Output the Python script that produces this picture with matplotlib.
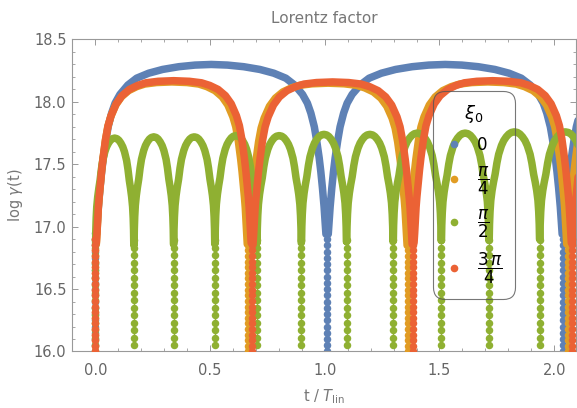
import numpy as np
import matplotlib
matplotlib.use("Agg")
import matplotlib.pyplot as plt
from matplotlib.lines import Line2D
from matplotlib.ticker import MultipleLocator, FormatStrFormatter

# ---- data -----------------------------------------------------------------
# each series: times of the dips (t / T_lin), log(gamma) at each arch top,
# and the arch shape (depth below the top vs. fraction of the arch)
blue_dips = [0.0, 1.01, 2.04, 3.07]
blue_peaks = [18.30, 18.30, 18.30]
blue_frac = [0.005, 0.009, 0.013, 0.02, 0.027, 0.034, 0.045, 0.055, 0.07,
             0.085, 0.106, 0.14, 0.178, 0.23, 0.29, 0.36, 0.43, 0.5]
blue_depth = [1.36, 1.25, 1.14, 0.99, 0.86, 0.75, 0.61, 0.50, 0.39,
              0.31, 0.24, 0.165, 0.11, 0.07, 0.04, 0.018, 0.005, 0.0]
blue_dots = [16.0, 16.05, 16.1, 16.15, 16.2, 16.25, 16.3, 16.35, 16.4, 16.45,
             16.5, 16.55, 16.6, 16.65, 16.7, 16.75, 16.8, 16.85, 16.9, 16.95]

orange_dips = [0.0, 0.666, 1.363, 2.059, 2.75]
orange_peaks = [18.16, 18.15, 18.16, 18.16]

red_dips = [0.0, 0.683, 1.385, 2.079, 2.77]
red_peaks = [18.17, 18.16, 18.17, 18.17]
red_frac = [0.006, 0.01, 0.014, 0.019, 0.024, 0.029, 0.04, 0.049, 0.065,
            0.081, 0.1, 0.133, 0.17, 0.217, 0.27, 0.323, 0.4, 0.5]
red_depth = [1.30, 1.22, 1.12, 1.01, 0.93, 0.865, 0.72, 0.62, 0.47, 0.36,
             0.28, 0.185, 0.12, 0.07, 0.038, 0.017, 0.005, 0.0]
red_dots = [16.0, 16.045, 16.09, 16.135, 16.18, 16.225, 16.27, 16.315, 16.36,
            16.405, 16.45, 16.495, 16.54, 16.585, 16.63, 16.675, 16.72,
            16.765, 16.81, 16.855, 16.9]

green_dips = [0.0, 0.168, 0.341, 0.521, 0.704, 0.898, 1.095, 1.298, 1.508,
              1.716, 1.937, 2.16]
green_peaks = [17.71, 17.72, 17.72, 17.73, 17.73, 17.74, 17.74, 17.75,
               17.75, 17.76, 17.76]
green_frac = [0.004, 0.01, 0.02, 0.035, 0.06, 0.09, 0.12, 0.155, 0.19, 0.245,
              0.29, 0.34, 0.39, 0.44, 0.5]
green_depth = [0.86, 0.74, 0.64, 0.55, 0.47, 0.40, 0.34, 0.25, 0.18, 0.11,
               0.07, 0.04, 0.018, 0.005, 0.0]
green_dots = [16.05, 16.11, 16.17, 16.23, 16.29, 16.35, 16.41, 16.47, 16.53,
              16.59, 16.65, 16.71, 16.77, 16.83, 16.89]

legend_labels = ["0", r"$\dfrac{\pi}{4}$", r"$\dfrac{\pi}{2}$",
                 r"$\dfrac{3\,\pi}{4}$"]

BLUE = "#5E81B5"
ORANGE = "#E19C24"
GREEN = "#8FB032"
RED = "#EB6235"
GRAY = "#777777"


def arch_curve(dips, peaks, frac, depth):
    """Chain the arch shape between consecutive dips."""
    s_full = list(frac) + [1.0 - f for f in reversed(frac[:-1])]
    d_full = list(depth) + list(reversed(depth[:-1]))
    ts, ys = [], []
    for i, peak in enumerate(peaks):
        a, b = dips[i], dips[i + 1]
        ts += [a + s * (b - a) for s in s_full] + [np.nan]
        ys += [peak - d for d in d_full] + [np.nan]
    return ts, ys


def draw_series(ax, dips, peaks, frac, depth, dots, color, z):
    ts, ys = arch_curve(dips, peaks, frac, depth)
    ax.plot(ts, ys, color=color, lw=5.4, solid_capstyle="round",
            solid_joinstyle="round", zorder=z)
    for t in dips:
        ax.plot([t] * len(dots), dots, color=color, lw=1.0, marker="o",
                ms=5.4, mew=0, zorder=z)


fig = plt.figure(figsize=(5.77, 4.08), dpi=100)
ax = fig.add_axes([0.1248, 0.1385, 0.8734, 0.7647])

draw_series(ax, blue_dips, blue_peaks, blue_frac, blue_depth, blue_dots,
            BLUE, 2)
draw_series(ax, orange_dips, orange_peaks, red_frac, red_depth, red_dots,
            ORANGE, 3)
draw_series(ax, green_dips, green_peaks, green_frac, green_depth, green_dots,
            GREEN, 4)
draw_series(ax, red_dips, red_peaks, red_frac, red_depth, red_dots,
            RED, 5)

ax.set_xlim(-0.102, 2.095)
ax.set_ylim(16.0, 18.5)
ax.xaxis.set_major_locator(MultipleLocator(0.5))
ax.xaxis.set_minor_locator(MultipleLocator(0.1))
ax.yaxis.set_major_locator(MultipleLocator(0.5))
ax.yaxis.set_minor_locator(MultipleLocator(0.1))
ax.xaxis.set_major_formatter(FormatStrFormatter("%.1f"))
ax.yaxis.set_major_formatter(FormatStrFormatter("%.1f"))
ax.tick_params(which="both", direction="in", top=True, right=True,
               color="#999999", labelcolor="#666666", labelsize=10.5)
ax.tick_params(which="major", length=4, width=0.7)
ax.tick_params(which="minor", length=2, width=0.6)
ax.tick_params(axis="x", which="major", pad=8)
ax.tick_params(axis="y", which="major", pad=4)
for spine in ax.spines.values():
    spine.set_color("#999999")
    spine.set_linewidth(0.8)

ax.set_title("Lorentz factor", color=GRAY, fontsize=11, pad=12)
ax.set_xlabel("t / $T_{\\rm lin}$", color=GRAY, fontsize=10.5, labelpad=7)
ax.set_ylabel("log $\\gamma$(t)", color=GRAY, fontsize=10.5, labelpad=6)

handles = [Line2D([], [], ls="none", marker="o", ms=5.5, mew=0, color=c)
           for c in (BLUE, ORANGE, GREEN, RED)]
leg = ax.legend(handles, legend_labels, title=r"$\xi_0$", loc="upper left",
                bbox_to_anchor=(0.716, 0.835), fontsize=12, title_fontsize=13,
                frameon=True, fancybox=True, handlelength=1.0,
                handletextpad=0.9, labelspacing=0.65, borderpad=0.75,
                borderaxespad=0)
frame = leg.get_frame()
frame.set_facecolor("none")
frame.set_edgecolor("#555555")
frame.set_linewidth(0.8)
frame.set_boxstyle("round,pad=0,rounding_size=0.7")
leg.set_zorder(10)

fig.savefig("out.png", dpi=100)
